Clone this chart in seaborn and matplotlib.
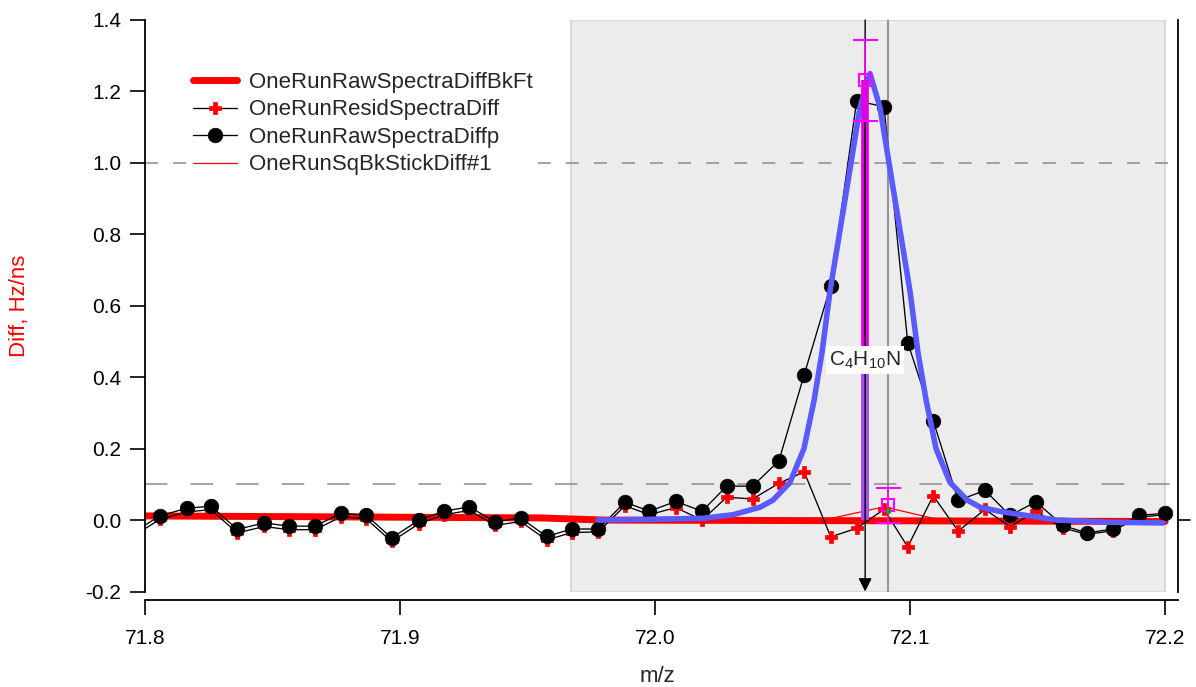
import matplotlib
matplotlib.use("Agg")
import matplotlib.pyplot as plt
import matplotlib.ticker as mticker
import numpy as np
import pandas as pd
import seaborn as sns

# ---------------- data ----------------
mz = [71.7958, 71.8059, 71.8164, 71.8259, 71.8362, 71.8467, 71.8565, 71.8667,
      71.8769, 71.8867, 71.8967, 71.9075, 71.9173, 71.9272, 71.9373, 71.9473,
      71.9575, 71.9673, 71.9778, 71.9882, 71.9978, 72.0081, 72.0185, 72.0281,
      72.0383, 72.0486, 72.0585, 72.0689, 72.0791, 72.0898, 72.0991, 72.1091,
      72.1189, 72.1294, 72.1392, 72.1494, 72.1599, 72.1693, 72.1795, 72.1899,
      72.2000]
raw = [-0.033, 0.012, 0.033, 0.039, -0.026, -0.008, -0.017, -0.017,
       0.019, 0.014, -0.050, 0.000, 0.025, 0.037, -0.005, 0.006,
       -0.046, -0.025, -0.025, 0.050, 0.025, 0.052, 0.025, 0.095,
       0.095, 0.166, 0.407, 0.656, 1.174, 1.157, 0.497, 0.278,
       0.055, 0.083, 0.013, 0.051, -0.015, -0.036, -0.025, 0.013,
       0.019]
resid = [-0.043, 0.002, 0.023, 0.029, -0.036, -0.018, -0.027, -0.027,
         0.009, 0.004, -0.060, -0.010, 0.015, 0.027, -0.015, -0.004,
         -0.056, -0.035, -0.033, 0.040, 0.015, 0.035, 0.000, 0.064,
         0.059, 0.103, 0.135, -0.047, -0.023, 0.030, -0.075, 0.068,
         -0.031, 0.030, -0.019, 0.025, -0.022, -0.040, -0.030, 0.008,
         0.015]

fit_mz = [71.9776, 71.9980, 72.0188, 72.0306, 72.0412, 72.0463, 72.0529,
          72.0584, 72.0624, 72.0655, 72.0686, 72.0725, 72.0753, 72.0804,
          72.0843, 72.0882, 72.0933, 72.0961, 72.1000, 72.1031, 72.1063,
          72.1102, 72.1157, 72.1224, 72.1275, 72.1353, 72.1482, 72.1576,
          72.1773, 72.1992]
fit_y = [0.000, 0.002, 0.005, 0.015, 0.036, 0.056, 0.105,
         0.200, 0.336, 0.470, 0.640, 0.810, 0.932, 1.156,
         1.250, 1.156, 0.932, 0.810, 0.640, 0.470, 0.336,
         0.200, 0.105, 0.056, 0.036, 0.024, 0.010, 0.000,
         -0.006, -0.008]

bk_mz = [71.79, 71.955, 71.980, 72.200]
bk_y = [0.012, 0.006, 0.000, -0.004]

sq_mz = [72.066, 72.0898, 72.112]
sq_y = [0.000, 0.037, 0.000]

peak_mz = 72.0824
peak_y = 1.231
peak_err = (1.117, 1.343)
ref_mz = 72.0914
ref_y = 0.043
ref_err = (-0.008, 0.090)
ref_green = 0.025
shade = (71.967, 72.200)
dash_levels = [1.0, 0.1]
label_y = 0.448
formula = r"C$_4$H$_{10}$N"

xticks = [71.8, 71.9, 72.0, 72.1, 72.2]
yticks = [-0.2, 0.0, 0.2, 0.4, 0.6, 0.8, 1.0, 1.2, 1.4]

# ---------------- style ----------------
sns.set_style("ticks")
plt.rcParams["font.family"] = ["Liberation Sans", "DejaVu Sans"]
plt.rcParams["lines.scale_dashes"] = False
plt.rcParams["mathtext.fontset"] = "custom"
plt.rcParams["mathtext.rm"] = "Liberation Sans"
plt.rcParams["mathtext.it"] = "Liberation Sans"
plt.rcParams["mathtext.default"] = "regular"

fig, ax = plt.subplots(figsize=(11.96, 6.87), dpi=100)
fig.subplots_adjust(left=0.1212, right=0.985, top=0.9709, bottom=0.139)

ax.axvspan(shade[0], shade[1], facecolor="#ececec", edgecolor="#d9d9d9",
           lw=1.5, zorder=0)
for lv, dsh in zip(dash_levels, [(9.4, 10.8), (16.2, 16.6)]):
    ax.axhline(lv, color="#8c8c8c", lw=1.1, dashes=dsh, zorder=1)
ax.axvline(ref_mz, color="#8a8a8a", lw=1.3, zorder=1.5)

df = pd.DataFrame({"mz": mz, "raw": raw, "resid": resid})

sns.lineplot(x=bk_mz, y=bk_y, color="red", lw=5, ax=ax,
             label="OneRunRawSpectraDiffBkFt", zorder=2)
sns.lineplot(x=sq_mz, y=sq_y, color="red", lw=0.9, ax=ax,
             label="OneRunSqBkStickDiff#1", zorder=2.5)
sns.lineplot(data=df, x="mz", y="resid", color="black", lw=0.95, ax=ax,
             marker="P", markersize=8.5, markerfacecolor="red",
             markeredgecolor="red", markeredgewidth=0.5,
             label="OneRunResidSpectraDiff", zorder=3)
sns.lineplot(data=df, x="mz", y="raw", color="black", lw=0.95, ax=ax,
             marker="o", markersize=10.5, markerfacecolor="black",
             markeredgecolor="black", markeredgewidth=0.5,
             label="OneRunRawSpectraDiffp", zorder=4)
sns.lineplot(x=fit_mz, y=fit_y, color="#5a5aff", lw=4, ax=ax, zorder=5,
             label="_fit")

# stick, arrow, error bars
ax.vlines(peak_mz, 0, peak_y, color="#e000e0", lw=5.5, zorder=6)
ax.vlines(peak_mz, 0, label_y, color="#a64ff0", lw=5.5, zorder=6.2)
ax.annotate("", xy=(peak_mz, -0.2), xytext=(peak_mz, 1.4),
            arrowprops=dict(arrowstyle="-|>", color="black", lw=1,
                            mutation_scale=20, shrinkA=0, shrinkB=0),
            zorder=7)
ax.errorbar([peak_mz], [peak_y],
            yerr=[[peak_y - peak_err[0]], [peak_err[1] - peak_y]],
            fmt="s", mfc="none", mec="#ff00ff", ms=9, mew=1.5,
            ecolor="#ff00ff", elinewidth=1.2, capsize=9, capthick=4, zorder=8)
ax.errorbar([ref_mz], [ref_y],
            yerr=[[ref_y - ref_err[0]], [ref_err[1] - ref_y]],
            fmt="s", mfc="none", mec="#ff00ff", ms=9, mew=1.5,
            ecolor="#ff00ff", elinewidth=1.2, capsize=9, capthick=4, zorder=8)
ax.plot([ref_mz], [ref_green], marker="o", ms=3, color="#2a9a2a", zorder=8.5)

ax.text(peak_mz, label_y, formula, ha="center", va="center", fontsize=15,
        bbox=dict(facecolor="white", edgecolor="none", pad=2.5), zorder=9)

# axes
ax.set_xlim(71.8, 72.2051)
ax.set_ylim(-0.2, 1.4)
ax.set_xticks(xticks)
ax.set_yticks(yticks)
ax.xaxis.set_major_formatter(mticker.FormatStrFormatter("%.1f"))
ax.yaxis.set_major_formatter(mticker.FormatStrFormatter("%.1f"))
ax.tick_params(axis="both", direction="out", length=11, width=1.2,
               labelsize=15, pad=6, colors="black")
ax.tick_params(axis="x", pad=10)
ax.spines["top"].set_visible(False)
for s in ["left", "right", "bottom"]:
    ax.spines[s].set_linewidth(1.3)
    ax.spines[s].set_color("black")
ax.spines["bottom"].set_position(("outward", 6))
ax.plot([1.0, 1.012], [0, 0], color="black", lw=1.2,
        transform=ax.get_yaxis_transform(), clip_on=False)

ax.set_xlabel("m/z", fontsize=16)
ax.xaxis.label.set_va("center")
ax.xaxis.set_label_coords(0.496, -0.148)
ax.set_ylabel("Diff, Hz/ns", fontsize=16, color="red")
ax.yaxis.label.set_va("center")
ax.yaxis.set_label_coords(-0.121, 0.5)

handles, labels = ax.get_legend_handles_labels()
order = ["OneRunRawSpectraDiffBkFt", "OneRunResidSpectraDiff",
         "OneRunRawSpectraDiffp", "OneRunSqBkStickDiff#1"]
hmap = dict(zip(labels, handles))
leg = ax.legend([hmap[k] for k in order], order, loc="upper left",
                bbox_to_anchor=(0.0422, 0.9167), frameon=True, fontsize=16,
                handlelength=2.0, handletextpad=0.5, labelspacing=0.29,
                borderaxespad=0, borderpad=0.2, fancybox=False,
                facecolor="white", edgecolor="none", framealpha=1.0)
leg.set_zorder(10)

fig.savefig("out.png", dpi=100)
